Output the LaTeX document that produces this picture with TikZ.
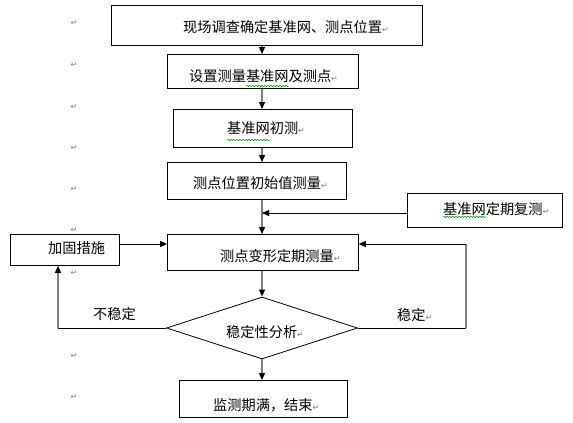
\documentclass[tikz,border=0pt]{standalone}
\usepackage{fontspec}
\setmainfont{Noto Sans CJK SC}
\newfontfamily\djv{DejaVu Sans}
\usetikzlibrary{arrows.meta,shapes.geometric,decorations.pathmorphing}
\definecolor{lgrey}{RGB}{128,128,128}
\definecolor{wgreen}{RGB}{0,150,0}
\newcommand\pmark{{\djv\fontsize{8}{8}\selectfont\textcolor{lgrey}{↵}}}
\begin{document}
\begin{tikzpicture}[x=1pt,y=-1pt,
  box/.style={draw, line width=0.8pt, inner sep=0pt, anchor=north west},
  txt/.style={inner sep=0pt, anchor=base west, font=\fontsize{14.2}{14.2}\selectfont},
  pm/.style={inner sep=0pt, anchor=center},
  tipa/.style={-{Triangle[length=7pt,width=6pt,color=black]}},
  varr/.style={draw=lgrey, line width=1.3pt, tipa},
  vgrey/.style={draw=lgrey, line width=1.3pt},
  hline/.style={draw=black, line width=0.8pt},
  harr/.style={draw=black, line width=0.8pt, tipa},
  wavy/.style={draw=wgreen, line width=0.5pt, decorate, decoration={snake, amplitude=0.7pt, segment length=3pt}}
]
\useasboundingbox (0,0) rectangle (573,423);
\fill[white] (0,0) rectangle (573,423);

% boxes
\node[box, minimum width=311pt, minimum height=40pt] (b1) at (111,5) {};
\node[box, minimum width=191pt, minimum height=34pt] (b2) at (167,54) {};
\node[box, minimum width=179pt, minimum height=38pt] (b3) at (173,109) {};
\node[box, minimum width=179pt, minimum height=37pt] (b4) at (167,162) {};
\node[box, minimum width=155pt, minimum height=34pt] (bf) at (407,193) {};
\node[box, minimum width=191pt, minimum height=36pt] (b5) at (167,234) {};
\node[box, minimum width=109pt, minimum height=31pt] (bj) at (10,234) {};
\node[draw, line width=0.8pt, shape=diamond, inner sep=0pt, minimum width=191pt, minimum height=62pt] (dm) at (262,328) {};
\node[box, minimum width=168pt, minimum height=37pt] (b6) at (179,380) {};

% texts
\node[txt] (t1) at (183,32) {现场调查确定基准网、测点位置\pmark};
\node[txt] (t2) at (189,81) {设置测量基准网及测点\pmark};
\node[txt] (t3) at (227,133) {基准网初测\pmark};
\node[txt] (t4) at (193,188) {测点位置初始值测量\pmark};
\node[txt] (tf) at (443,214) {基准网定期复测\pmark};
\node[txt] (t5) at (220,261) {测点变形定期测量\pmark};
\node[txt] (tj) at (48,253) {加固措施};
\node[txt] (td) at (226,337) {稳定性分析\pmark};
\node[txt] (t6) at (213,410) {监测期满，结束\pmark};
\node[txt] (tu) at (93,319) {不稳定};
\node[txt] (ts) at (397,320) {稳定\pmark};

% spell-check underlines
\draw[wavy] (246,86) -- (289,86);
\draw[wavy] (227,140) -- (270,140);
\draw[wavy] (443,217) -- (486,217);

% paragraph marks in left column
\node[pm] (m1) at (74,23) {\pmark};
\node[pm] (m2) at (74,65) {\pmark};
\node[pm] (m3) at (74,107) {\pmark};
\node[pm] (m4) at (74,148) {\pmark};
\node[pm] (m5) at (74,189) {\pmark};
\node[pm] (m6) at (74,230) {\pmark};
\node[pm] (m7) at (74,273) {\pmark};
\node[pm] (m8) at (74,356) {\pmark};
\node[pm] (m9) at (74,397) {\pmark};

% connectors
\coordinate (ax) at (262,0);
\draw[varr] (b1.south -| ax) -- (b2.north -| ax);
\draw[varr] (b2.south -| ax) -- (b3.north -| ax);
\draw[varr] (b3.south -| ax) -- (b4.north -| ax);
\draw[varr] (b4.south -| ax) -- (b5.north -| ax);
\coordinate (fj) at (262,213);
\draw[harr] (bf.west |- fj) -- (fj);
\coordinate (in5) at (167,244);
\draw[harr] (bj.east |- in5) -- (b5.west |- in5);
\draw[varr] (b5.south -| ax) -- (dm.north);
\draw[varr] (dm.south) -- (b6.north -| ax);
\coordinate (lc) at (58,328);
\draw[hline] (dm.west) -- (lc);
\draw[varr] (lc) -- (bj.south -| lc);
\coordinate (rc) at (466,328);
\coordinate (rt) at (466,244);
\draw[hline] (dm.east) -- (rc);
\draw[vgrey] (rc) -- (rt);
\draw[harr] (rt) -- (b5.east |- rt);
\end{tikzpicture}
\end{document}
